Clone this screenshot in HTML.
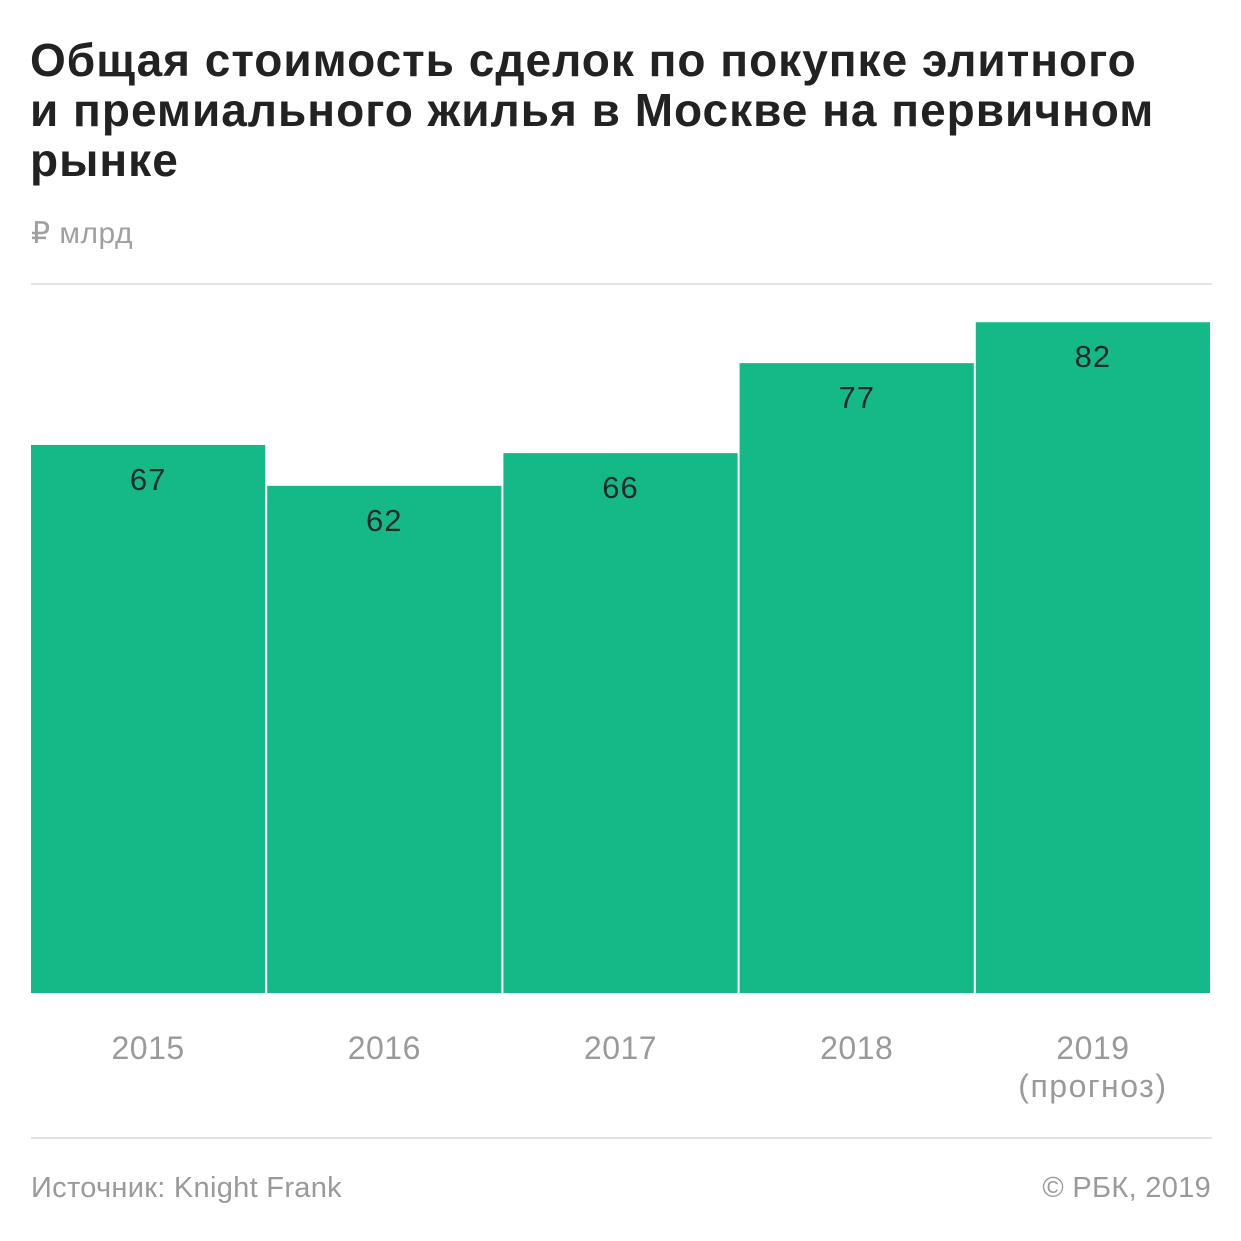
<!DOCTYPE html>
<html><head><meta charset="utf-8"><style>
body{margin:0;background:#fff;width:1241px;height:1241px;overflow:hidden;position:relative;font-family:"Liberation Sans",sans-serif}
.t{position:absolute;left:30px;top:35px;font-size:46px;font-weight:bold;line-height:50px;color:#222;letter-spacing:1px;white-space:nowrap}
.u{position:absolute;left:31px;top:216px;font-size:30px;color:#a0a0a0;letter-spacing:0.5px}
.hr{position:absolute;left:31px;width:1181px;height:2px;background:#e3e3e3}
.f{position:absolute;top:1172px;font-size:29px;color:#9a9a9a;letter-spacing:0.3px}
</style></head><body>
<div class="t">Общая стоимость сделок по покупке элитного<br>и премиального жилья в Москве на первичном<br>рынке</div>
<div class="u">₽ млрд</div>
<div class="hr" style="top:283px"></div>
<svg id="c" width="1241" height="1241" style="position:absolute;left:0;top:0"></svg>
<div class="hr" style="top:1137px"></div>
<div class="f" style="left:31px">Источник: Knight Frank</div>
<div class="f" style="right:30px">© РБК, 2019</div>
<script>
const categories=["2015","2016","2017","2018","2019"];
const subLabels=["","","","","(прогноз)"];
const values=[67,62,66,77,82];
const svg=document.getElementById('c');
const NS="http://www.w3.org/2000/svg";
const x0=31,x1=1212,base=993,scale=8.18;
const pitch=(x1-x0)/categories.length;
function xPos(i){return x0+i*pitch;}
function yPos(v){return base-v*scale;}
values.forEach((v,i)=>{
 const r=document.createElementNS(NS,'rect');
 r.setAttribute('x',xPos(i));r.setAttribute('y',yPos(v));
 r.setAttribute('width',pitch-2);r.setAttribute('height',base-yPos(v));
 r.setAttribute('fill','#14b987');
 
 
 svg.appendChild(r);
 const cx=xPos(i)+(pitch-2)/2;
 const t=document.createElementNS(NS,'text');
 t.setAttribute('x',cx);t.setAttribute('y',yPos(v)+45);
 t.setAttribute('text-anchor','middle');t.setAttribute('font-size','31');t.setAttribute('fill','#1f2a26');
 t.setAttribute('font-family','Liberation Sans, sans-serif');
 t.setAttribute('letter-spacing','1');
 t.textContent=v;
 
 
 svg.appendChild(t);
 const l=document.createElementNS(NS,'text');
 l.setAttribute('x',cx);l.setAttribute('y',1059);
 l.setAttribute('text-anchor','middle');l.setAttribute('font-size','32');l.setAttribute('fill','#9a9a9a');
 l.setAttribute('font-family','Liberation Sans, sans-serif');
 l.setAttribute('letter-spacing','0.5');
 l.textContent=categories[i];
 
 
 svg.appendChild(l);
 if(subLabels[i]){
  const s=document.createElementNS(NS,'text');
  s.setAttribute('x',cx);s.setAttribute('y',1097);
  s.setAttribute('text-anchor','middle');s.setAttribute('font-size','32');s.setAttribute('fill','#9a9a9a');
  s.setAttribute('font-family','Liberation Sans, sans-serif');
  s.setAttribute('letter-spacing','1.5');
  s.textContent=subLabels[i];
  
  
  svg.appendChild(s);
 }
});
</script>
</body></html>
